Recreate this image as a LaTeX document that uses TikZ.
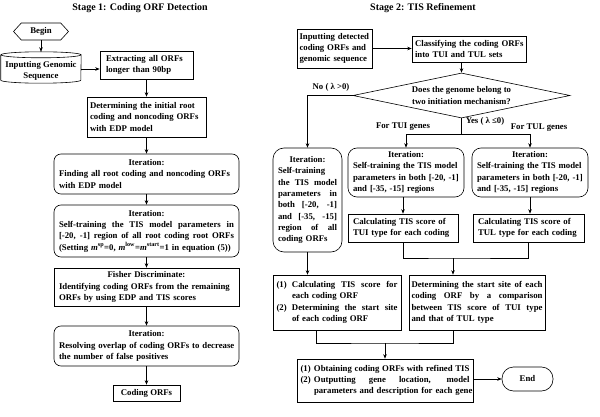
\documentclass[tikz,border=0pt]{standalone}
\usepackage{fontspec}
\setmainfont{Liberation Serif}
\usetikzlibrary{arrows.meta,shapes.geometric,shapes.symbols}
\newcommand\SL[1]{\makebox[\hsize][l]{\spaceskip=\fontdimen2\font plus 1fill\relax\xspaceskip=\spaceskip #1}}
\newcommand\CL[1]{\makebox[\hsize]{#1}}
\newcommand\HL[3]{\makebox[#1][l]{#2}\makebox[\dimexpr\hsize-#1\relax][l]{\spaceskip=\fontdimen2\font plus 1fill\relax\xspaceskip=\spaceskip #3}}
\newcommand\IL[2]{\mbox{\hspace*{#1}#2}}
\newcommand\M[1]{\mbox{#1}}
\begin{document}
\begin{tikzpicture}[x=1pt,y=-1pt,
  txt/.style={font=\fontsize{8.75}{11.3}\selectfont\bfseries},
  box/.style={txt,draw,line width=0.6pt,inner ysep=1pt,align=left},
  rbox/.style={box,rounded corners=7pt},
  rbox2/.style={box,rounded corners=9pt},
  lbl/.style={txt,inner sep=0pt},
  ttl/.style={font=\fontsize{10}{12}\selectfont\bfseries,inner sep=0pt},
  arr/.style={-{Stealth[length=4.5pt,width=3.5pt]},line width=0.6pt},
  ln/.style={line width=0.6pt}]
\useasboundingbox (0,0) rectangle (600,417);
% titles
\node[ttl] (t1) at (140,8) {Stage 1: Coding ORF Detection};
\node[ttl] (t2) at (423,8) {Stage 2: TIS Refinement};
% ---------- stage 1
\node[txt,draw,line width=0.6pt,shape=signal,signal to=east and west,signal pointer angle=95,
      minimum width=55pt,minimum height=17pt,inner sep=0pt] (begin) at (41,31.5) {Begin};
\node[txt,align=center,minimum width=80pt,minimum height=24pt,inner sep=0pt] (input) at (41,71) {Inputting Genomic\\Sequence};
\draw[ln] ([yshift=4pt]input.north west) -- ([yshift=3pt]input.south west)
  arc[start angle=180,end angle=360,x radius=40pt,y radius=3pt] -- ([yshift=4pt]input.north east);
\draw[ln] ([yshift=4pt]input.north) ellipse[x radius=40pt,y radius=3pt];
\coordinate (inputtop) at ([yshift=7pt]input.north);
\node[box,text width=81pt,inner xsep=6pt,minimum height=28pt] (extract) at (146.5,65) {\M{Extracting all ORFs}\\\M{longer than 90bp}};
\node[box,text width=113pt,inner xsep=3pt,minimum height=40pt] (determ) at (146.5,117) {\M{Determining the initial root}\\\M{coding and noncoding ORFs}\\\M{with EDP model}};
\node[rbox,text width=175pt,inner xsep=5pt,minimum height=40pt] (iter1) at (146.5,174) {\CL{Iteration:}\\\M{Finding all root coding and noncoding ORFs}\\\M{with EDP model}};
\node[rbox,text width=175pt,inner xsep=5pt,minimum height=52pt] (self1) at (146.5,231) {\CL{Iteration:}\\\SL{Self-training the TIS model parameters in}\\\SL{[-20, -1] region of all root coding root ORFs}\\\M{(Setting \textit{m}\textsuperscript{sp}=0, \textit{m}\textsuperscript{low}=\textit{m}\textsuperscript{start}=1 in equation (5))}};
\node[box,text width=175pt,inner xsep=5pt,minimum height=38pt] (fisher) at (146.5,287) {\CL{Fisher Discriminate:}\\\M{Identifying coding ORFs from the remaining}\\\M{ORFs by using EDP and TIS scores}};
\node[rbox,text width=175pt,inner xsep=5pt,minimum height=40pt] (iter2) at (146.5,346) {\CL{Iteration:}\\\M{Resolving overlap of coding ORFs to decrease}\\\M{the number of false positives}};
\node[box,align=center,minimum width=67pt,minimum height=16pt,inner sep=0pt] (coding) at (146.5,393) {Coding ORFs};
\draw[arr] (begin.south) -- (inputtop);
\draw[arr] ([yshift=2pt]input.east) -- ([yshift=2pt]input.east -| extract.west);
\draw[arr] (extract.south) -- (determ.north);
\draw[arr] (determ.south) -- (iter1.north);
\draw[arr] (iter1.south) -- (self1.north);
\draw[arr] (self1.south) -- (fisher.north);
\draw[arr] (fisher.south) -- (iter2.north);
\draw[arr] (iter2.south) -- (coding.north);
% ---------- stage 2
\node[box,text width=70pt,inner xsep=2.5pt,minimum height=39pt] (inp2) at (334.5,48.5) {\M{Inputting detected}\\\M{coding ORFs and}\\\M{genomic sequence}};
\node[box,text width=108pt,inner xsep=3pt,minimum height=26pt] (cls) at (469,49) {\M{Classifying the coding ORFs}\\\M{into TUI and TUL sets}};
\node[txt,draw,line width=0.6pt,diamond,aspect=4.8,minimum width=217pt,minimum height=45pt,inner sep=0pt,align=center] (dia) at (461.5,95.5) {Does the genome belong to\\two initiation mechanism?};
\node[rbox2,rounded corners=11pt,text width=59pt,inner xsep=5pt,minimum height=104pt] (liter) at (307.5,200) {\CL{Iteration:}\\\M{Self-training}\\\SL{the TIS model}\\\SL{parameters in}\\\SL{both [-20, -1]}\\\SL{and [-35, -15]}\\\SL{region of all}\\\M{coding ORFs}};
\node[rbox2,text width=106pt,inner xsep=5pt,minimum height=49pt] (miter) at (406,172.5) {\CL{Iteration:}\\\M{Self-training the TIS model}\\\M{parameters in both [-20, -1]}\\\M{and [-35, -15] regions}};
\node[rbox2,text width=106pt,inner xsep=5pt,minimum height=49pt] (riter) at (530,172.5) {\CL{Iteration:}\\\M{Self-training the TIS model}\\\M{parameters in both [-20, -1]}\\\M{and [-35, -15] regions}};
\node[box,text width=100pt,inner xsep=5pt,minimum height=28pt] (calc1) at (403,228) {\M{Calculating TIS score of}\\\M{TUI type for each coding}};
\node[box,text width=101pt,inner xsep=5pt,minimum height=28pt] (calc2) at (528.5,228) {\M{Calculating TIS score of}\\\M{TUL type for each coding}};
\node[box,text width=121pt,inner xsep=3.5pt,minimum height=55pt] (lbot) at (337,302.5) {\HL{15.5pt}{(1)}{Calculating TIS score for}\\\IL{15.5pt}{each coding ORF}\\\HL{15.5pt}{(2)}{Determining the start site}\\\IL{15.5pt}{of each coding ORF}};
\node[box,text width=131pt,inner xsep=2.5pt,minimum height=55pt] (det) at (477,302.5) {\SL{Determining the start site of each}\\\SL{coding ORF by a comparison}\\\SL{between TIS score of TUI type}\\\M{and that of TUL type}};
\node[box,text width=169pt,inner xsep=3.5pt,minimum height=43pt] (final) at (385,380.5) {\HL{13.5pt}{(1)}{Obtaining coding ORFs with refined TIS}\\\HL{13.5pt}{(2)}{Outputting gene location, model}\\\IL{13.5pt}{parameters and description for each gene}};
\node[box,align=center,rounded corners=11.5pt,minimum width=51pt,minimum height=24pt,inner sep=0pt] (end) at (527.5,379) {End};
% labels
\node[lbl] (nolbl) at (331,87) {No ( λ >0)};
\node[lbl] (yeslbl) at (485,121) {Yes ( λ ≤0)};
\node[lbl] (tuilbl) at (403,127) {For TUI genes};
\node[lbl] (tullbl) at (539,128) {For TUL genes};
% connectors
\draw[arr] (inp2.east) -- (inp2.east -| cls.west);
\draw[arr] (cls.south -| dia.north) -- (dia.north);
\draw[arr] (dia.west) -| (liter.north);
\coordinate (yj) at (461.5,134);
\draw[ln] (dia.south) -- (yj);
\draw[arr] (yj) -| (miter.north);
\draw[arr] (yj) -| (riter.north);
\draw[arr] (miter.south -| calc1.north) -- (calc1.north);
\draw[arr] (riter.south) -- (riter.south |- calc2.north);
\coordinate (mA) at (453,258);
\draw[ln] (calc1.south) |- (mA) -| (calc2.south);
\draw[arr] (mA) -- (mA |- det.north);
\draw[arr] (liter.south) -- (liter.south |- lbot.north);
\coordinate (mB) at (385,343);
\draw[ln] ([xshift=44pt]lbot.south west) |- (mB) -| ([xshift=45pt]det.south west);
\draw[arr] (mB) -- (final.north);
\draw[arr] (final.east |- end.west) -- (end.west);
\end{tikzpicture}
\end{document}
